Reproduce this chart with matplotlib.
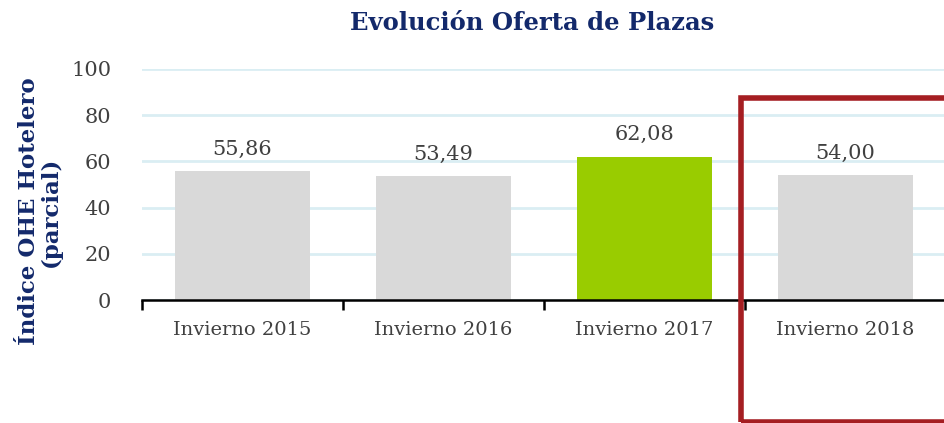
import matplotlib.pyplot as plt
from matplotlib.patches import Rectangle

# datos
categorias = ["Invierno 2015", "Invierno 2016", "Invierno 2017", "Invierno 2018"]
valores = [55.86, 53.49, 62.08, 54.00]
colores = ["#D9D9D9", "#D9D9D9", "#99CC00", "#D9D9D9"]

azul = "#13296B"
plt.rcParams["font.family"] = ["DejaVu Serif"]

fig = plt.figure(figsize=(9.44, 4.23), dpi=100)
ax = fig.add_axes([142 / 944, (423 - 300) / 423, 804 / 944, 231 / 423])

x = range(len(categorias))
ax.bar(x, valores, width=0.67, color=colores, zorder=3)

for i, v in zip(x, valores):
    ax.annotate(f"{v:.2f}".replace(".", ","), (i, v), xytext=(0, 9),
                textcoords="offset points", ha="center", va="bottom",
                fontsize=15, color="#404040")

ax.set_ylim(0, 100)
ax.set_xlim(-0.5, 3.5)
ax.set_yticks(range(0, 101, 20))
ax.tick_params(axis="y", length=0, labelsize=15, labelcolor="#404040", pad=22)
ax.set_xticks([i - 0.5 for i in range(4)] + [3.5])
ax.set_xticklabels([])
ax.set_xticks(list(x), minor=True)
ax.set_xticklabels(categorias, minor=True)
ax.tick_params(axis="x", which="major", length=7, width=1.8, color="black", direction="out")
ax.tick_params(axis="x", which="minor", length=0, labelsize=14, labelcolor="#404040", pad=15)

ax.grid(axis="y", color="#DAEEF3", linewidth=2, zorder=0)
for s in ["top", "right", "left"]:
    ax.spines[s].set_visible(False)
ax.spines["bottom"].set_linewidth(1.8)
ax.spines["bottom"].set_zorder(4)

fig.text(532 / 944, 0.945, "Evolución Oferta de Plazas", ha="center", va="center",
         fontsize=17.5, fontweight="bold", color=azul)
fig.text(0.042, 0.5, "Índice OHE Hotelero\n(parcial)", ha="center", va="center",
         rotation=90, fontsize=16.5, fontweight="bold", color=azul, linespacing=1.0)

# recuadro rojo
fig.patches.append(Rectangle((741 / 944, 1 / 423), 0.3, (423 - 98 - 1) / 423,
                             transform=fig.transFigure, fill=False,
                             edgecolor="#A51E22", linewidth=4, clip_on=False))

fig.savefig("out.png", dpi=100)
